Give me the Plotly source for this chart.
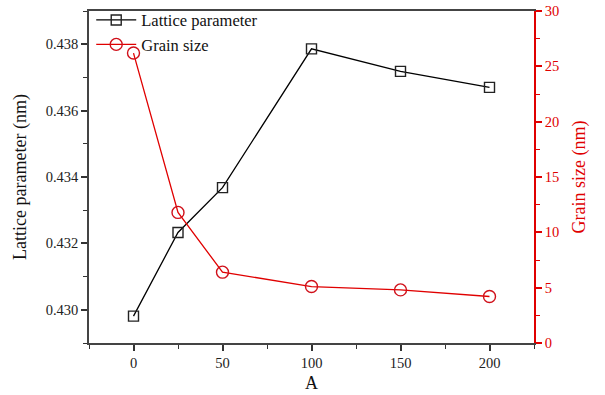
import plotly.graph_objects as go

x_vals = [0, 25, 50, 100, 150, 200]
lattice = [0.42981, 0.43233, 0.43368, 0.43786, 0.43718, 0.43670]
grain = [26.2, 11.8, 6.4, 5.1, 4.8, 4.2]

FONT = "Liberation Serif, Times New Roman, serif"
RED = "#e00000"

fig = go.Figure()
fig.add_trace(go.Scatter(
    x=x_vals, y=lattice, name="Lattice parameter", mode="lines+markers",
    line=dict(color="#000000", width=1.3),
    marker=dict(symbol="square-open", size=10, color="#222222", line=dict(width=1.4)),
))
fig.add_trace(go.Scatter(
    x=x_vals, y=grain, name="Grain size", mode="lines+markers", yaxis="y2",
    line=dict(color=RED, width=1.3),
    marker=dict(symbol="circle-open", size=12, color="#d0101a", line=dict(width=1.4)),
))

fig.update_layout(
    width=605, height=395,
    margin=dict(l=89, r=71, t=11, b=52, autoexpand=False),
    plot_bgcolor="white", paper_bgcolor="white",
    font=dict(family=FONT, size=14, color="#222222"),
    showlegend=True,
    legend=dict(x=0.005, y=1.025, xanchor="left", yanchor="top",
                bgcolor="rgba(0,0,0,0)", font=dict(family=FONT, size=16.5, color="#111111"),
                tracegroupgap=0, itemwidth=40),
    xaxis=dict(
        range=[-25, 225], tickvals=[0, 50, 100, 150, 200], automargin=False,
        showline=True, linecolor="#444444", linewidth=1.6, mirror=True,
        ticks="outside", ticklen=6, tickwidth=1.6, tickcolor="#333333",
        minor=dict(dtick=25, tick0=0, ticks="outside", ticklen=4, tickwidth=1.4, tickcolor="#333333", showgrid=False),
        showgrid=False, zeroline=False,
        tickfont=dict(family=FONT, size=14.5, color="#222222"),
        title=dict(text="A", font=dict(family=FONT, size=18, color="#111111"), standoff=6),
    ),
    yaxis=dict(
        range=[0.429, 0.439], tickvals=[0.430, 0.432, 0.434, 0.436, 0.438], tickformat=".3f",
        automargin=False,
        showline=True, linecolor="#444444", linewidth=1.6,
        ticks="outside", ticklen=6, tickwidth=1.6, tickcolor="#333333",
        minor=dict(dtick=0.001, tick0=0.429, ticks="outside", ticklen=4, tickwidth=1.4, tickcolor="#333333", showgrid=False),
        showgrid=False, zeroline=False,
        tickfont=dict(family=FONT, size=14.5, color="#222222"),
        title=dict(text="Lattice parameter (nm)", font=dict(family=FONT, size=18, color="#111111"), standoff=14),
    ),
    yaxis2=dict(
        overlaying="y", side="right", range=[0, 30], tickvals=[0, 5, 10, 15, 20, 25, 30],
        automargin=False,
        showline=True, linecolor=RED, linewidth=1.6,
        ticks="outside", ticklen=6, tickwidth=1.6, tickcolor=RED,
        minor=dict(dtick=2.5, tick0=0, ticks="outside", ticklen=4, tickwidth=1.4, tickcolor=RED, showgrid=False),
        showgrid=False, zeroline=False,
        tickfont=dict(family=FONT, size=14.5, color=RED),
        title=dict(text="Grain size (nm)", font=dict(family=FONT, size=18, color=RED), standoff=14),
    ),
)

fig.write_html("out.html")
